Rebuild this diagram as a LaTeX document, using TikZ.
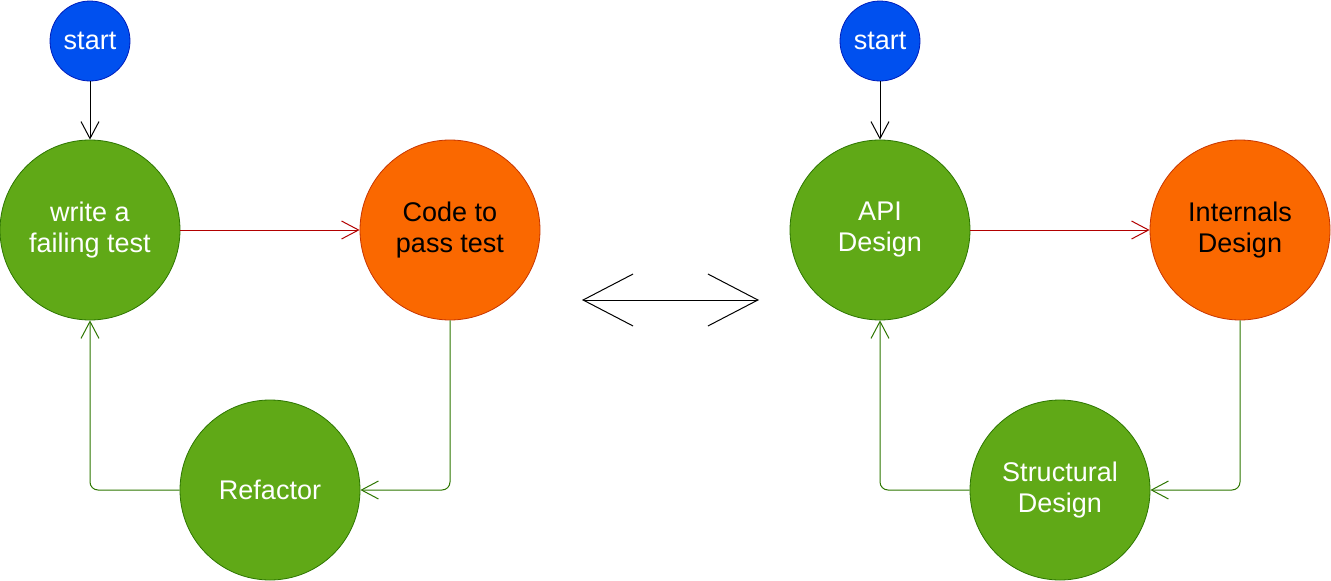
\documentclass[tikz,border=0pt]{standalone}
\usepackage{fontspec}
\setmainfont{Liberation Sans}
\usetikzlibrary{arrows.meta}
\definecolor{gfill}{HTML}{60A917}
\definecolor{gline}{HTML}{2D7600}
\definecolor{ofill}{HTML}{FA6800}
\definecolor{oline}{HTML}{C73500}
\definecolor{bfill}{HTML}{0050EF}
\definecolor{bline}{HTML}{001DBC}
\definecolor{rline}{HTML}{B20000}
\tikzset{
  big/.style={circle, minimum size=180pt, inner sep=0pt, align=center,
    font=\fontsize{27}{31}\selectfont, line width=0.8pt},
  gnode/.style={big, fill=gfill, draw=gline, text=white},
  onode/.style={big, fill=ofill, draw=oline, text=black},
  snode/.style={circle, minimum size=80pt, inner sep=0pt, fill=bfill, draw=bline,
    text=white, font=\fontsize{27}{31}\selectfont, line width=0.8pt},
  conn/.style={line width=1pt, -{Straight Barb[length=17pt,width=18pt]}},
  blackc/.style={conn, draw=black},
  redc/.style={conn, draw=rline},
  greenc/.style={conn, draw=gline, rounded corners=8pt},
  dbl/.style={line width=1pt, draw=black,
    {Straight Barb[length=50pt,width=52pt]}-{Straight Barb[length=50pt,width=52pt]}}
}
\begin{document}
\begin{tikzpicture}[x=1pt,y=-1pt]
\useasboundingbox (0,0) rectangle (1331,581);
% left cycle
\node[snode] (s1) at (90,41) {start};
\node[gnode] (w1) at (90,230) {write a\\failing test};
\node[onode] (c1) at (450,230) {Code to\\pass test};
\node[gnode] (r1) at (270,490) {Refactor};
\draw[blackc] (s1) -- (w1);
\draw[redc] (w1) -- (c1);
\draw[greenc] (c1.south) |- (r1.east);
\draw[greenc] (r1.west) -| (w1.south);
% right cycle
\node[snode] (s2) at (880,41) {start};
\node[gnode] (a2) at (880,230) {API\\Design};
\node[onode] (i2) at (1240,230) {Internals\\Design};
\node[gnode] (t2) at (1060,490) {Structural\\Design};
\draw[blackc] (s2) -- (a2);
\draw[redc] (a2) -- (i2);
\draw[greenc] (i2.south) |- (t2.east);
\draw[greenc] (t2.west) -| (a2.south);
% middle double arrow
\coordinate (dl) at (582,300);
\coordinate (dr) at (759,300);
\draw[dbl] (dl) -- (dr);
\end{tikzpicture}
\end{document}
